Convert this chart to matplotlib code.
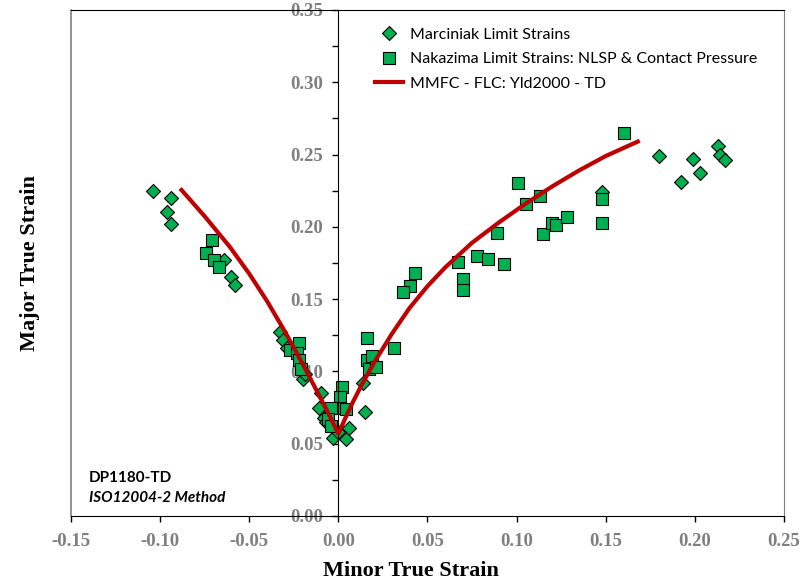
import matplotlib.pyplot as plt
import numpy as np

plt.rcParams['font.family'] = ['Lato', 'DejaVu Sans']

# Marciniak limit strains (minor, major)
mk_minor = [-0.104, -0.094, -0.096, -0.094, -0.064, -0.060, -0.058,
            -0.033, -0.031, -0.029, -0.020, -0.019, -0.010, -0.011, -0.008,
            -0.007, -0.003, 0.004, 0.006, 0.000, 0.014, 0.015,
            0.148, 0.180, 0.192, 0.199, 0.203, 0.213, 0.214, 0.217]
mk_major = [0.225, 0.220, 0.210, 0.202, 0.177, 0.165, 0.160,
            0.127, 0.122, 0.116, 0.095, 0.098, 0.085, 0.075, 0.068,
            0.065, 0.054, 0.053, 0.061, 0.058, 0.092, 0.072,
            0.224, 0.249, 0.231, 0.247, 0.237, 0.256, 0.250, 0.246]

# Nakazima limit strains: NLSP & contact pressure
nk_minor = [-0.071, -0.074, -0.070, -0.067,
            -0.027, -0.022, -0.023, -0.022, -0.021,
            0.002, 0.001, 0.001, 0.004, -0.004, -0.006, -0.004,
            0.016, 0.016, 0.019, 0.017, 0.021, 0.031,
            0.043, 0.040, 0.036, 0.067, 0.070, 0.070, 0.078, 0.084,
            0.089, 0.093, 0.101, 0.105, 0.113, 0.115, 0.120, 0.122,
            0.128, 0.148, 0.148, 0.160]
nk_major = [0.191, 0.182, 0.177, 0.172,
            0.115, 0.120, 0.113, 0.108, 0.102,
            0.089, 0.082, 0.075, 0.074, 0.075, 0.067, 0.062,
            0.123, 0.108, 0.111, 0.102, 0.103, 0.116,
            0.168, 0.159, 0.155, 0.176, 0.164, 0.156, 0.180, 0.178,
            0.196, 0.174, 0.230, 0.216, 0.221, 0.195, 0.203, 0.201,
            0.207, 0.219, 0.203, 0.265]

# MMFC forming limit curve, Yld2000, TD
flc_minor = [-0.088, -0.075, -0.061, -0.050, -0.040, -0.030, -0.020, -0.012,
             -0.006, 0.000, 0.004, 0.008, 0.013, 0.020, 0.030, 0.040,
             0.050, 0.060, 0.075, 0.090, 0.105, 0.120, 0.135, 0.150, 0.168]
flc_major = [0.2255, 0.2073, 0.1863, 0.1676, 0.1486, 0.1276, 0.1051, 0.0863,
             0.0719, 0.0569, 0.0680, 0.0785, 0.0905, 0.1060, 0.1260, 0.1440,
             0.159, 0.172, 0.189, 0.203, 0.216, 0.228, 0.239, 0.249, 0.259]

green = '#00B050'
gray = '#7F7F7F'

fig = plt.figure(figsize=(8.04, 5.82), dpi=100)
ax = fig.add_axes([71/804, 1-516/582, 713/804, 506/582])

ax.plot(mk_minor, mk_major, 'D', ms=6.8, mfc=green, mec='black', mew=0.8,
        label='Marciniak Limit Strains', zorder=2)
ax.plot(nk_minor, nk_major, 's', ms=8, mfc=green, mec='black', mew=0.8,
        label='Nakazima Limit Strains: NLSP & Contact Pressure', zorder=2)
ax.plot(flc_minor, flc_major, '-', color='#C00000', lw=3, solid_joinstyle='round',
        label='MMFC - FLC: Yld2000 - TD', zorder=3)

ax.set_xlim(-0.15, 0.25)
ax.set_ylim(0, 0.35)
ax.set_xticks(np.arange(-0.15, 0.251, 0.05))
ax.set_yticks(np.arange(0, 0.351, 0.05))
ax.set_yticks(np.arange(0, 0.351, 0.025), minor=True)
ax.xaxis.set_major_formatter(plt.FormatStrFormatter('%.2f'))
ax.yaxis.set_major_formatter(plt.FormatStrFormatter('%.2f'))

# y axis crosses at zero minor strain
ax.spines['left'].set_position(('data', 0))
ax.spines['left'].set_color('black')
ax.spines['top'].set_color('black')
ax.spines['right'].set_color(gray)
ax.spines['bottom'].set_color('black')
ax.plot([0, 0], [0, 1], color=gray, lw=1.2, transform=ax.transAxes, clip_on=False)

tick_font = dict(family='Liberation Serif', weight='bold', size=13.5)
ax.tick_params(axis='both', which='both', direction='out', color='black', width=1)
ax.tick_params(axis='y', which='major', length=4, pad=7, labelcolor=gray)
ax.tick_params(axis='y', which='minor', length=4)
ax.tick_params(axis='x', which='major', length=4, pad=8, labelcolor=gray)
for lab in ax.get_xticklabels() + ax.get_yticklabels():
    lab.set_fontproperties(tick_font)
    lab.set_fontsize(13.5)

ax.set_xlabel('Minor True Strain', family='Liberation Serif', weight='bold', fontsize=16)
ax.set_ylabel('Major True Strain', family='Liberation Serif', weight='bold', fontsize=16)
ax.xaxis.set_label_coords(0.477, -0.089)
ax.yaxis.set_label_coords(-0.043, 0.5)

ax.legend(loc='upper left', bbox_to_anchor=(0.418, 0.978), frameon=False,
          fontsize=11.5, handlelength=1.75, handletextpad=0.4, labelspacing=0.64,
          borderaxespad=0)

ax.text(0.025, 0.075, 'DP1180-TD', transform=ax.transAxes, fontsize=11,
        weight='bold', va='center')
ax.text(0.025, 0.036, 'ISO12004-2 Method', transform=ax.transAxes, fontsize=11,
        weight='bold', style='italic', va='center')

fig.savefig('out.png', dpi=100)
